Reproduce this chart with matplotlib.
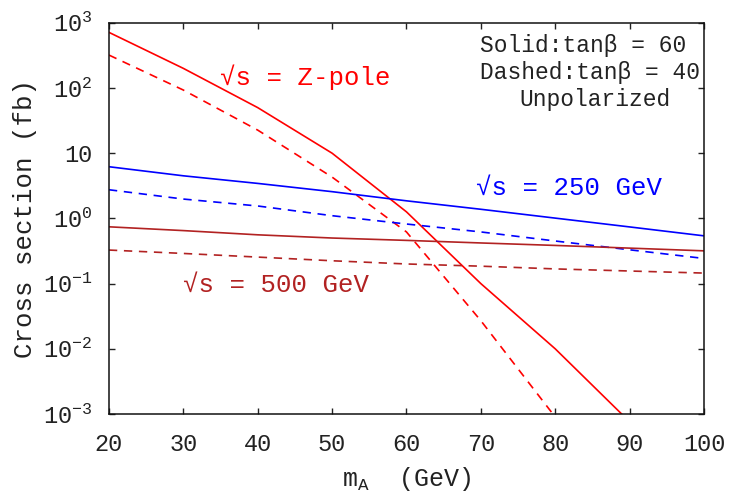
"""Cross section vs m_A for three collider energies (log scale)."""

import matplotlib

matplotlib.use("Agg")
import matplotlib.pyplot as plt
from matplotlib.ticker import FixedLocator, FixedFormatter, NullLocator

plt.rcParams["font.family"] = ["Liberation Mono", "DejaVu Sans Mono"]
plt.rcParams["mathtext.fontset"] = "custom"
plt.rcParams["mathtext.rm"] = "Liberation Mono"
plt.rcParams["mathtext.it"] = "Liberation Mono"

# ---------------------------------------------------------------------------
# Data
# ---------------------------------------------------------------------------

m_a = [20, 30, 40, 50, 60, 70, 80, 90, 100]

# Z-pole
zpole_tb60 = [713, 200, 50, 10, 1.26, 0.1, 0.01, 7.6e-4, 6e-5]
zpole_tb40 = [320, 93, 22.6, 4.3, 0.62, 0.027, 9e-4, 3e-5, 1e-6]

# sqrt(s) = 250 GeV
e250_tb60 = [6.2, 4.5, 3.44, 2.57, 1.86, 1.38, 1.01, 0.74, 0.54]
e250_tb40 = [2.75, 1.98, 1.55, 1.1, 0.82, 0.62, 0.45, 0.33, 0.243]

# sqrt(s) = 500 GeV
e500_tb60 = [0.743, 0.65, 0.56, 0.50, 0.46, 0.42, 0.385, 0.35, 0.318]
e500_tb40 = [0.327, 0.29, 0.255, 0.224, 0.20, 0.185, 0.168, 0.156, 0.145]

x_ticks = [20, 30, 40, 50, 60, 70, 80, 90, 100]
y_ticks = [1e-3, 1e-2, 1e-1, 1, 10, 1e2, 1e3]
y_tick_labels = [r"$\mathregular{10^{-3}}$", r"$\mathregular{10^{-2}}$",
                 r"$\mathregular{10^{-1}}$", r"$\mathregular{10^{0}}$", "10",
                 r"$\mathregular{10^{2}}$", r"$\mathregular{10^{3}}$"]

RED = "#ff0000"
BLUE = "#0000ff"
BROWN = "#b22222"
INK = "#222222"
DASH = (0, (5, 4))

# ---------------------------------------------------------------------------
# Figure
# ---------------------------------------------------------------------------

fig = plt.figure(figsize=(7.36, 4.95), dpi=100)
ax = fig.add_axes([0.148, 0.1636, 0.8085, 0.7904])

lw = 1.2
ax.plot(m_a, zpole_tb60, color=RED, lw=lw)
ax.plot(m_a, zpole_tb40, color=RED, lw=lw, linestyle=DASH)
ax.plot(m_a, e250_tb60, color=BLUE, lw=lw)
ax.plot(m_a, e250_tb40, color=BLUE, lw=lw, linestyle=DASH)
ax.plot(m_a, e500_tb60, color=BROWN, lw=lw)
ax.plot(m_a, e500_tb40, color=BROWN, lw=lw, linestyle=DASH)

ax.set_yscale("log")
ax.set_xlim(20, 100)
ax.set_ylim(1e-3, 1e3)

ax.xaxis.set_major_locator(FixedLocator(x_ticks))
ax.yaxis.set_major_locator(FixedLocator(y_ticks))
ax.yaxis.set_major_formatter(FixedFormatter(y_tick_labels))
ax.yaxis.set_minor_locator(NullLocator())

ax.tick_params(which="both", direction="in", top=True, right=True,
               length=4.5, width=1.0, labelsize=17, pad=12, colors=INK)
ax.tick_params(axis="x", pad=14)
for spine in ax.spines.values():
    spine.set_linewidth(1.1)
    spine.set_color("#111111")

ax.set_xlabel(r"$\mathregular{m_A}$  (GeV)", fontsize=18, labelpad=6,
              color=INK)
ax.set_ylabel("Cross section (fb)", fontsize=18.5, labelpad=4, color=INK)

ax.text(34.9, 147, "√s = Z-pole", color=RED, fontsize=18.5, va="center")
ax.text(69.4, 2.92, "√s = 250 GeV", color=BLUE, fontsize=18.5, va="center")
ax.text(29.9, 0.095, "√s = 500 GeV", color=BROWN, fontsize=18.5, va="center")

ax.text(69.9, 10 ** 2.655, "Solid:tanβ = 60", fontsize=16.5, va="center",
        color=INK)
ax.text(69.9, 10 ** 2.245, "Dashed:tanβ = 40", fontsize=16.5, va="center",
        color=INK)
ax.text(85.3, 10 ** 1.83, "Unpolarized", fontsize=16.5, va="center",
        ha="center", color=INK)

plt.savefig("out.png", dpi=100)
plt.close()
